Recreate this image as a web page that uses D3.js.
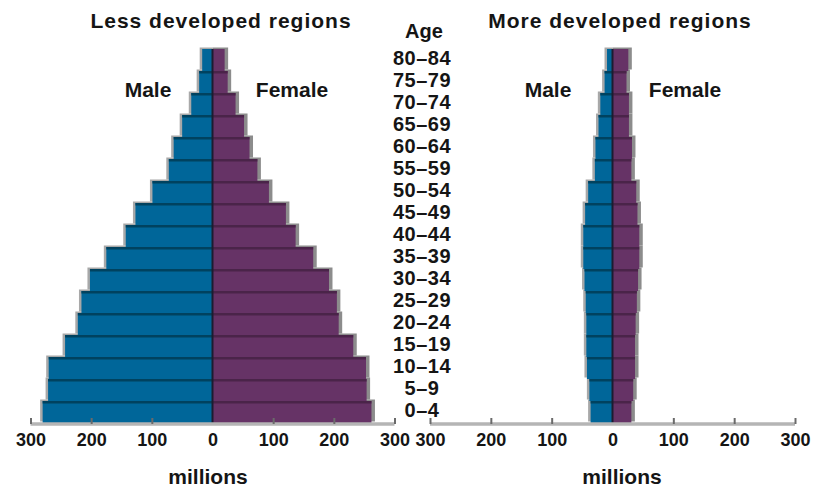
<!DOCTYPE html>
<html><head><meta charset="utf-8">
<script src="https://cdn.jsdelivr.net/npm/d3@7"></script>
<style>
body{margin:0;background:#fff;}
svg text{font-family:"Liberation Sans",Arial,sans-serif;font-weight:bold;fill:#151515;}
</style></head>
<body><svg id="c" width="814" height="487"></svg>
<script>
const ages = ["0–4","5–9","10–14","15–19","20–24","25–29","30–34","35–39","40–44","45–49","50–54","55–59","60–64","65–69","70–74","75–79","80–84"];
const lessMale   = [280, 271, 270, 243, 222, 216, 202, 175, 143, 127, 99, 72, 64, 50, 35, 22, 17];
const lessFemale = [262, 254, 253, 232, 208, 205, 192, 166, 137, 121, 93, 74, 61, 52, 38, 25, 20];
const moreMale   = [36, 38, 42, 43, 43, 44, 46, 48, 48, 45, 40, 29, 28, 23, 20, 13, 9];
const moreFemale = [31, 34, 37, 37, 38, 40, 42, 44, 44, 41, 39, 31, 32, 27, 27, 23, 26];
const tickValues = [-300, -200, -100, 0, 100, 200, 300];
const titles = ["Less developed regions", "More developed regions"];

const svg = d3.select("#c");
const y = d3.scaleBand().domain(ages.slice().reverse()).range([49, 423]).padding(0);

function pyramid(male, female, range, title, titleX, maleX, femaleX, unitX) {
  const x = d3.scaleLinear().domain([-300, 300]).range(range);
  const g = svg.append("g");
  const rows = ages.map((a, i) => ({age: a, m: male[i], f: female[i]}));
  // shadows
  g.selectAll(".sm").data(rows).join("rect")
    .attr("x", d => x(-d.m) - 2.5).attr("y", d => y(d.age) - 1.5)
    .attr("width", d => x(0) - x(-d.m) + 2.5).attr("height", y.bandwidth())
    .attr("fill", "#a8a8a8");
  g.selectAll(".sf").data(rows).join("rect")
    .attr("x", x(0)).attr("y", d => y(d.age) - 1.5)
    .attr("width", d => x(d.f) - x(0) + 3.5).attr("height", y.bandwidth())
    .attr("fill", "#8c8c8c");
  // bars
  g.selectAll(".bm").data(rows).join("rect")
    .attr("x", d => x(-d.m)).attr("y", d => y(d.age))
    .attr("width", d => x(0) - x(-d.m)).attr("height", y.bandwidth())
    .attr("fill", "#006699");
  g.selectAll(".bf").data(rows).join("rect")
    .attr("x", x(0)).attr("y", d => y(d.age))
    .attr("width", d => x(d.f) - x(0)).attr("height", y.bandwidth())
    .attr("fill", "#663366");
  // dark top stripes
  g.selectAll(".tm").data(rows.slice(0, -1)).join("rect")
    .attr("x", d => x(-d.m)).attr("y", d => y(d.age))
    .attr("width", d => x(0) - x(-d.m)).attr("height", 2.5)
    .attr("fill", "#00425f");
  g.selectAll(".tf").data(rows.slice(0, -1)).join("rect")
    .attr("x", x(0)).attr("y", d => y(d.age))
    .attr("width", d => x(d.f) - x(0)).attr("height", 2.5)
    .attr("fill", "#4a2449");
  // center line
  g.append("line").attr("x1", x(0)).attr("x2", x(0))
    .attr("y1", y.range()[0]).attr("y2", y.range()[1])
    .attr("stroke", "#1c1c30").attr("stroke-width", 2);
  // axis
  const ax = g.append("g").attr("transform", "translate(0,424)")
    .call(d3.axisBottom(x).tickValues(tickValues).tickSize(-6).tickPadding(14)
      .tickFormat(d => Math.abs(d)));
  ax.select(".domain").attr("stroke", "#b5b5b5").attr("stroke-width", 3)
    .attr("d", `M${range[0]},-0.5V0.5H${range[1]}V-0.5`).attr("d", null);
  ax.select(".domain").remove();
  ax.insert("line", ":first-child").attr("x1", range[0]).attr("x2", range[1])
    .attr("y1", 0).attr("y2", 0).attr("stroke", "#b5b5b5").attr("stroke-width", 3.5);
  ax.selectAll(".tick line").attr("stroke", "#6a6a6a").attr("stroke-width", 2);
  ax.selectAll(".tick").filter(d => d === 0).select("line").remove();
  ax.selectAll(".tick text").attr("font-size", 18).attr("font-family", "Liberation Sans, Arial, sans-serif")
    .attr("font-weight", "bold").attr("fill", "#1a1a1a").attr("dy", "0.45em");
  // titles
  g.append("text").attr("x", titleX).attr("y", 28).attr("text-anchor", "middle")
    .attr("font-size", 21).attr("letter-spacing", 1).text(title);
  g.append("text").attr("x", maleX).attr("y", 97).attr("text-anchor", "middle")
    .attr("font-size", 21).text("Male");
  g.append("text").attr("x", femaleX).attr("y", 97).attr("text-anchor", "middle")
    .attr("font-size", 21).text("Female");
  g.append("text").attr("x", unitX).attr("y", 484).attr("text-anchor", "middle")
    .attr("font-size", 21).attr("font-weight", "normal").text("millions");
}

pyramid(lessMale, lessFemale, [30.5, 394.5], titles[0], 221, 148, 292, 208);
pyramid(moreMale, moreFemale, [430, 795], titles[1], 620, 548, 685, 622);

// age labels
svg.append("text").attr("x", 424).attr("y", 38).attr("text-anchor", "middle")
  .attr("font-size", 20).text("Age");
svg.append("g").selectAll("text").data(ages).join("text")
  .attr("x", 422).attr("y", d => y(d) + y.bandwidth() / 2 - 2.5)
  .attr("dy", "0.36em").attr("text-anchor", "middle")
  .attr("font-size", 20).attr("letter-spacing", 0.5).text(d => d);
</script></body></html>
